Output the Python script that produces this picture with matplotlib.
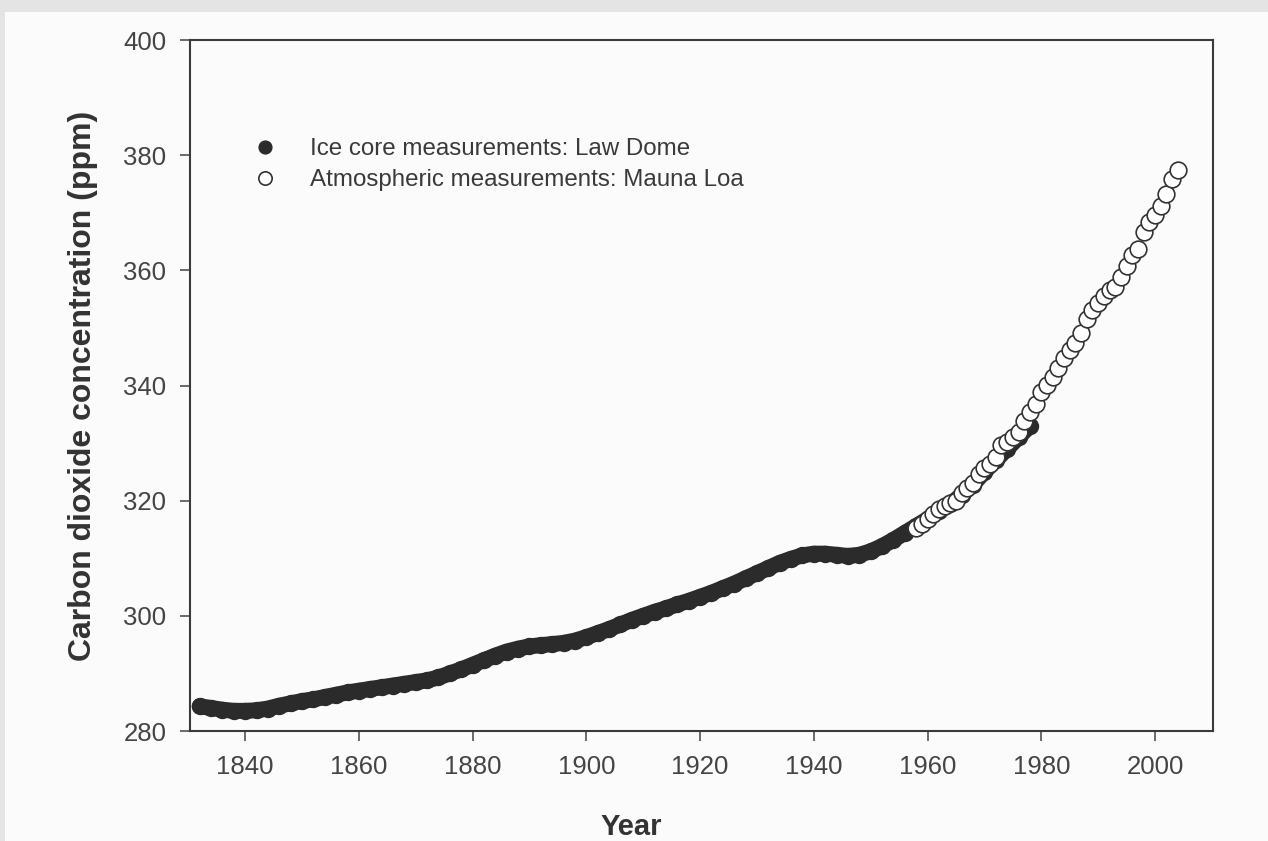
import matplotlib
matplotlib.use("Agg")
import matplotlib.pyplot as plt
from matplotlib.patches import Rectangle

plt.rcParams['font.family'] = ['Liberation Sans', 'DejaVu Sans']

# Law Dome ice core record (ppm), every two years
law_dome_years = list(range(1832, 1980, 2))
law_dome_ppm = [
    284.3, 284.0, 283.7, 283.5, 283.5, 283.6, 283.9, 284.4, 284.8, 285.2,
    285.5, 285.9, 286.3, 286.7, 287.0, 287.3, 287.6, 287.9, 288.2, 288.5,
    288.8, 289.3, 290.0, 290.7, 291.5, 292.3, 293.1, 293.8, 294.3, 294.7,
    294.9, 295.1, 295.3, 295.7, 296.3, 297.0, 297.7, 298.5, 299.3, 300.0,
    300.7, 301.3, 302.0, 302.6, 303.3, 304.0, 304.8, 305.6, 306.5, 307.4,
    308.3, 309.2, 309.9, 310.5, 310.8, 310.8, 310.6, 310.4, 310.6, 311.2,
    312.1, 313.2, 314.4, 315.6, 316.8, 318.2, 319.4, 321.0, 322.8, 325.0,
    327.0, 329.0, 331.0, 333.0,
]

# Mauna Loa annual means (ppm)
mauna_loa_years = list(range(1958, 2005))
mauna_loa_ppm = [
    315.3, 316.0, 316.9, 317.6, 318.5, 319.0, 319.6, 320.0, 321.4, 322.2,
    323.0, 324.6, 325.7, 326.3, 327.5, 329.7, 330.2, 331.1, 332.0, 333.8,
    335.4, 336.8, 338.8, 340.1, 341.5, 343.1, 344.7, 346.1, 347.4, 349.2,
    351.6, 353.1, 354.4, 355.6, 356.5, 357.1, 358.8, 360.8, 362.6, 363.7,
    366.7, 368.4, 369.6, 371.1, 373.3, 375.8, 377.5,
]

x_ticks = list(range(1840, 2001, 20))
y_ticks = list(range(280, 401, 20))

W, H = 1268, 841
fig = plt.figure(figsize=(W / 100, H / 100), dpi=100)
fig.patch.set_facecolor('#e4e4e4')
# scanned page sits inside a thin grey margin
fig.patches.append(Rectangle((5 / W, 0), 1, 1 - 12 / H, transform=fig.transFigure,
                             facecolor='#fbfbfb', edgecolor='none', zorder=-10))

ax = fig.add_axes([190 / W, 1 - 731 / H, 1023 / W, 691 / H])
ax.set_facecolor('none')

ink = '#2b2b2b'
# ice core samples are dense enough to read as one thick band
ax.plot(law_dome_years, law_dome_ppm, color=ink, linewidth=11.5,
        solid_capstyle='round', solid_joinstyle='round', zorder=2)
ax.plot(law_dome_years, law_dome_ppm, linestyle='none', marker='o',
        markersize=11.5, markerfacecolor=ink, markeredgecolor=ink,
        label='Ice core measurements: Law Dome', zorder=2)
ax.plot(mauna_loa_years, mauna_loa_ppm, linestyle='none', marker='o',
        markersize=12, markerfacecolor='white', markeredgecolor='#333333',
        markeredgewidth=1.2, label='Atmospheric measurements: Mauna Loa', zorder=3)

ax.set_xlim(1830.3, 2010.2)
ax.set_ylim(280, 400)
ax.set_xticks(x_ticks)
ax.set_yticks(y_ticks)

for side in ['left', 'right', 'top', 'bottom']:
    ax.spines[side].set_linewidth(1.5)
    ax.spines[side].set_color('#3a3a3a')

ax.tick_params(direction='out', length=7, width=1.1, color='#444444',
               labelsize=18.5, labelcolor='#444444', pad=10)

ax.set_xlabel('Year', fontsize=21, fontweight='bold', color='#333333')
ax.xaxis.set_label_coords(0.431, -0.118)
ax.set_ylabel('Carbon dioxide concentration (ppm)', fontsize=23,
              fontweight='bold', color='#333333')
ax.yaxis.set_label_coords(-0.090, 0.5)

leg = ax.legend(loc='upper left', bbox_to_anchor=(0.040, 0.889), frameon=False,
                fontsize=17.4, handlelength=1.0, handletextpad=1.36,
                labelspacing=0.36, markerscale=0.8)
for t in leg.get_texts():
    t.set_color('#3a3a3a')

fig.savefig('out.png', dpi=100, facecolor=fig.get_facecolor())
